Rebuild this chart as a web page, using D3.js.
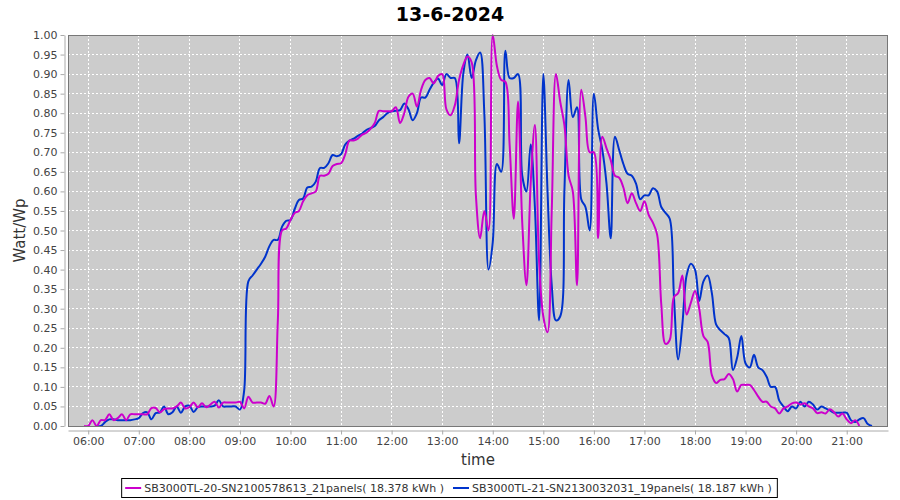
<!DOCTYPE html>
<html>
<head>
<meta charset="utf-8">
<script src="https://cdn.jsdelivr.net/npm/d3@7"></script>
<style>
  html, body { margin: 0; padding: 0; background: #ffffff; }
  svg { display: block; font-family: "DejaVu Sans", sans-serif; }
</style>
</head>
<body>
<svg id="chart" width="900" height="500"></svg>
<script>
// ---------------- data ----------------
const chartTitle = "13-6-2024";
const xAxisTitle = "time";
const yAxisTitle = "Watt/Wp";
const seriesNames = [
  "SB3000TL-20-SN2100578613_21panels( 18.378 kWh )",
  "SB3000TL-21-SN2130032031_19panels( 18.187 kWh )"
];
const seriesColors = ["#cc00cc", "#0033cc"];
const stepMinutes = 5;
const magentaStart = "05:55";
const magentaValues = [
  0, 0, 0.015, 0, 0.015, 0.015, 0.03, 0.015, 0.02, 0.03,
  0.015, 0.03, 0.03, 0.03, 0.03, 0.03, 0.046, 0.046, 0.035, 0.043,
  0.045, 0.045, 0.05, 0.06, 0.045, 0.048, 0.06, 0.048, 0.058, 0.048,
  0.055, 0.062, 0.047, 0.06, 0.06, 0.06, 0.06, 0.062, 0.045, 0.075,
  0.06, 0.06, 0.06, 0.057, 0.077, 0.05, 0.27, 0.50, 0.505, 0.527,
  0.545, 0.55, 0.575, 0.59, 0.595, 0.60, 0.64, 0.64, 0.645, 0.665,
  0.67, 0.672, 0.695, 0.73, 0.73, 0.735, 0.745, 0.75, 0.76, 0.775,
  0.806, 0.805, 0.805, 0.805, 0.815, 0.775, 0.80, 0.842, 0.85, 0.817,
  0.86, 0.885, 0.89, 0.876, 0.895, 0.90, 0.81, 0.795, 0.82, 0.885,
  0.923, 0.945, 0.93, 0.59, 0.48, 0.55, 0.50, 1.0, 0.92, 0.885,
  0.88, 0.72, 0.53, 0.83, 0.52, 0.36, 0.62, 0.77, 0.42, 0.28,
  0.24, 0.55, 0.90, 0.83, 0.77, 0.64, 0.60, 0.36, 0.86, 0.79,
  0.70, 0.70, 0.48, 0.74, 0.71, 0.68, 0.64, 0.635, 0.61, 0.57,
  0.595, 0.57, 0.55, 0.575, 0.54, 0.52, 0.49, 0.31, 0.21, 0.22,
  0.33, 0.34, 0.385, 0.285, 0.315, 0.345, 0.30, 0.23, 0.215, 0.13,
  0.11, 0.118, 0.12, 0.133, 0.12, 0.088, 0.105, 0.105, 0.105, 0.092,
  0.075, 0.062, 0.062, 0.05, 0.045, 0.032, 0.045, 0.05, 0.058, 0.06,
  0.055, 0.058, 0.05, 0.045, 0.033, 0.035, 0.032, 0.043, 0.035, 0.024,
  0.032, 0.017, 0.007, 0.015, 0
];
const blueStart = "06:10";
const blueValues = [
  0, 0, 0.01, 0.017, 0.017, 0.015, 0.015, 0.015, 0.015, 0.017,
  0.02, 0.033, 0.035, 0.017, 0.033, 0.035, 0.05, 0.03, 0.035, 0.05,
  0.034, 0.05, 0.052, 0.036, 0.048, 0.05, 0.05, 0.05, 0.052, 0.066,
  0.05, 0.05, 0.05, 0.05, 0.042, 0.09, 0.37, 0.385, 0.40, 0.415,
  0.433, 0.46, 0.476, 0.476, 0.51, 0.525, 0.527, 0.555, 0.578, 0.582,
  0.61, 0.612, 0.625, 0.66, 0.66, 0.672, 0.693, 0.69, 0.695, 0.72,
  0.73, 0.735, 0.742, 0.748, 0.757, 0.762, 0.767, 0.782, 0.79, 0.80,
  0.805, 0.806, 0.808, 0.825, 0.81, 0.782, 0.80, 0.84, 0.84, 0.86,
  0.878, 0.889, 0.872, 0.90, 0.89, 0.89, 0.723, 0.90, 0.95, 0.89,
  0.935, 0.955, 0.80, 0.40, 0.47, 0.67, 0.65, 0.96, 0.89, 0.89,
  0.90, 0.64, 0.60, 0.72, 0.56, 0.27, 0.90, 0.60, 0.36, 0.27,
  0.28, 0.60, 0.885, 0.79, 0.815, 0.58, 0.56, 0.50, 0.85, 0.76,
  0.706, 0.62, 0.48, 0.74, 0.706, 0.67, 0.645, 0.64, 0.62, 0.58,
  0.59, 0.59, 0.608, 0.60, 0.56, 0.545, 0.53, 0.33, 0.17, 0.26,
  0.385, 0.415, 0.40, 0.32, 0.37, 0.385, 0.34, 0.26, 0.245, 0.235,
  0.225, 0.143, 0.175, 0.23, 0.16, 0.15, 0.182, 0.15, 0.143, 0.126,
  0.10, 0.10, 0.065, 0.05, 0.038, 0.05, 0.045, 0.062, 0.05, 0.062,
  0.055, 0.042, 0.05, 0.045, 0.04, 0.034, 0.034, 0.034, 0.034, 0.015,
  0.01, 0.017, 0.02, 0.005, 0
];
const xTickLabels = ["06:00","07:00","08:00","09:00","10:00","11:00","12:00","13:00",
                     "14:00","15:00","16:00","17:00","18:00","19:00","20:00","21:00"];
const yTickValues = [0,0.05,0.10,0.15,0.20,0.25,0.30,0.35,0.40,0.45,0.50,
                     0.55,0.60,0.65,0.70,0.75,0.80,0.85,0.90,0.95,1.00];
const xDomainLabels = ["05:36", "21:49"];
const yDomain = [0, 1];

// ---------------- helpers ----------------
function toDate(hhmm) {
  const [h, m] = hhmm.split(":").map(Number);
  return new Date(2024, 5, 13, h, m);
}
function buildSeries(start, values) {
  const t0 = toDate(start).getTime();
  return values.map((v, i) => ({ t: new Date(t0 + i * stepMinutes * 60000), v }));
}
const series = [buildSeries(magentaStart, magentaValues), buildSeries(blueStart, blueValues)];

// ---------------- layout ----------------
const plot = { left: 68, right: 888, top: 35, bottom: 426 };
const svg = d3.select("#chart");
const x = d3.scaleTime().domain(xDomainLabels.map(toDate)).range([plot.left, plot.right]);
const y = d3.scaleLinear().domain(yDomain).range([plot.bottom, plot.top]);

// title
svg.append("text")
  .attr("x", 450).attr("y", 21)
  .attr("text-anchor", "middle")
  .style("font-size", "19px").style("font-weight", "bold").attr("fill", "#000")
  .text(chartTitle);

// plot background
svg.append("rect")
  .attr("x", plot.left).attr("y", plot.top)
  .attr("width", plot.right - plot.left).attr("height", plot.bottom - plot.top)
  .attr("fill", "#cccccc");

// gridlines
const grid = svg.append("g");
grid.selectAll("line.gx").data(xTickLabels).enter().append("line")
  .attr("x1", d => x(toDate(d))).attr("x2", d => x(toDate(d)))
  .attr("y1", plot.top).attr("y2", plot.bottom)
  .attr("stroke", "#ffffff").attr("stroke-width", 1).attr("stroke-dasharray", "2,2")
  .attr("shape-rendering", "crispEdges");
grid.selectAll("line.gy").data(yTickValues).enter().append("line")
  .attr("x1", plot.left).attr("x2", plot.right)
  .attr("y1", d => y(d)).attr("y2", d => y(d))
  .attr("stroke", "#ffffff").attr("stroke-width", 1).attr("stroke-dasharray", "2,2")
  .attr("shape-rendering", "crispEdges");

// clip
svg.append("clipPath").attr("id", "clip").append("rect")
  .attr("x", plot.left).attr("y", plot.top - 2)
  .attr("width", plot.right - plot.left).attr("height", plot.bottom - plot.top + 2);

// lines (blue first, magenta on top)
const line = d3.line().x(d => x(d.t)).y(d => y(d.v)).curve(d3.curveCatmullRom.alpha(0.5));
const lines = svg.append("g").attr("clip-path", "url(#clip)");
[1, 0].forEach(i => {
  lines.append("path")
    .datum(series[i])
    .attr("d", line)
    .attr("fill", "none")
    .attr("stroke", seriesColors[i])
    .attr("stroke-width", 2)
    .attr("stroke-linejoin", "round");
});

// plot border
svg.append("rect")
  .attr("x", plot.left + 0.5).attr("y", plot.top + 0.5)
  .attr("width", plot.right - plot.left - 1).attr("height", plot.bottom - plot.top)
  .attr("fill", "none").attr("stroke", "#777777").attr("stroke-width", 1);

// x axis
const xAxis = d3.axisBottom(x)
  .tickValues(xTickLabels.map(toDate))
  .tickFormat(d3.timeFormat("%H:%M"))
  .tickSize(4).tickSizeOuter(0).tickPadding(3);
const gx = svg.append("g").attr("transform", `translate(0,${plot.bottom + 4.5})`).call(xAxis);
gx.select(".domain").attr("stroke", "#aaaaaa");
gx.selectAll(".tick line").attr("stroke", "#aaaaaa");
gx.selectAll(".tick text").attr("fill", "#444444").style("font-size", "11px")
  .style("font-family", "DejaVu Sans, sans-serif");

// y axis
const yAxis = d3.axisLeft(y)
  .tickValues(yTickValues)
  .tickFormat(d3.format(".2f"))
  .tickSize(4).tickSizeOuter(0).tickPadding(3);
const gy = svg.append("g").attr("transform", `translate(${plot.left - 3.5},0)`).call(yAxis);
gy.select(".domain").attr("stroke", "#aaaaaa");
gy.selectAll(".tick line").attr("stroke", "#aaaaaa");
gy.selectAll(".tick text").attr("fill", "#444444").style("font-size", "11px")
  .style("font-family", "DejaVu Sans, sans-serif");

// axis titles
svg.append("text")
  .attr("x", (plot.left + plot.right) / 2).attr("y", 465)
  .attr("text-anchor", "middle").attr("fill", "#333333")
  .style("font-size", "15px")
  .text(xAxisTitle);
svg.append("text")
  .attr("transform", `translate(25,${(plot.top + plot.bottom) / 2}) rotate(-90)`)
  .attr("text-anchor", "middle").attr("fill", "#333333")
  .style("font-size", "15px")
  .text(yAxisTitle);

// legend
const legendBox = svg.append("rect");
const legend = svg.append("g");
let cursor = 0;
seriesNames.forEach((name, i) => {
  const g = legend.append("g");
  g.append("line").attr("x1", cursor + 3).attr("x2", cursor + 19).attr("y1", 0).attr("y2", 0)
    .attr("stroke", seriesColors[i]).attr("stroke-width", 2);
  const t = g.append("text").attr("x", cursor + 22).attr("y", 4)
    .attr("fill", "#333333").style("font-size", "11px").text(name);
  const w = t.node().getComputedTextLength();
  cursor += 22 + w + 6;
});
const legendWidth = cursor;
const legendX = 450 - legendWidth / 2;
legend.attr("transform", `translate(${legendX},488)`);
legendBox
  .attr("x", legendX - 0.5).attr("y", 478.5)
  .attr("width", legendWidth).attr("height", 19)
  .attr("fill", "#ffffff").attr("stroke", "#000000").attr("stroke-width", 1);
</script>
</body>
</html>
